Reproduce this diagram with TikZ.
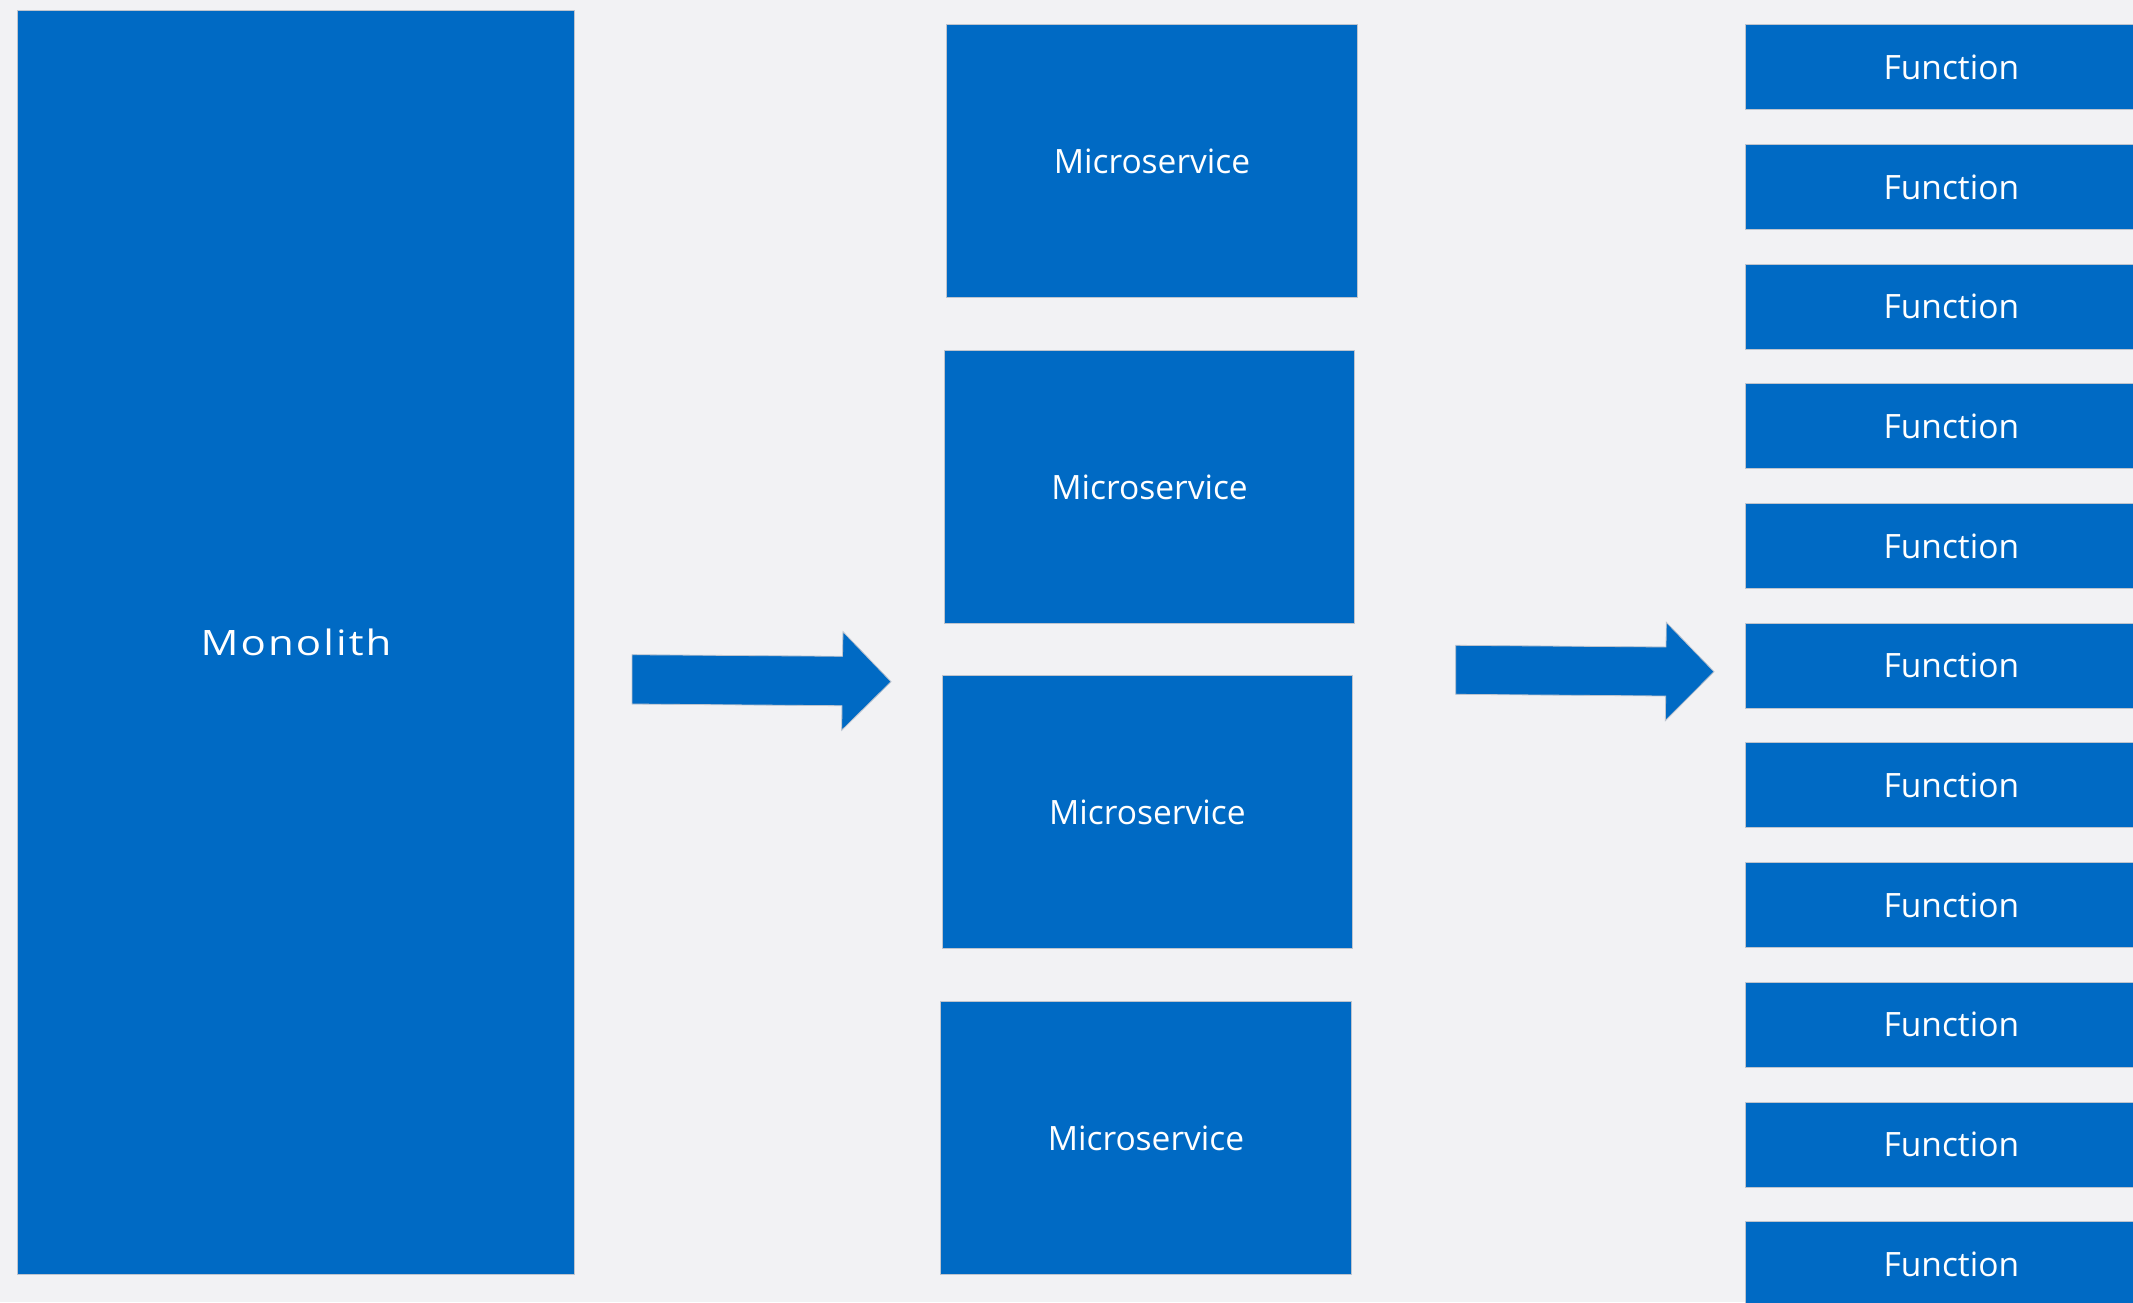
\documentclass[tikz,border=0pt]{standalone}
\usepackage{graphicx}
\usepackage{fontspec}
\setmainfont{Open Sans}
\newfontfamily\monofont[LetterSpace=5]{Open Sans}
\definecolor{bgc}{RGB}{242,242,244}
\definecolor{boxblue}{RGB}{0,106,196}
\definecolor{edgec}{RGB}{190,196,206}
\tikzset{
  blockbox/.style={fill=boxblue, draw=edgec, line width=1pt, inner sep=0pt, outer sep=0pt, text=white, font=\fontsize{33.5}{40}\selectfont},
  msbox/.style={blockbox, minimum width=410.6pt, minimum height=273pt},
  fnbox/.style={blockbox, minimum width=412pt, minimum height=85pt},
  bigarrow/.style={fill=boxblue, draw=edgec, line width=0.8pt, line join=miter}
}
\begin{document}
\begin{tikzpicture}[x=1pt,y=-1pt]
\fill[bgc] (0,0) rectangle (2133,1302);
\useasboundingbox (0,0) rectangle (2133,1302);
\node[blockbox, minimum width=556.6pt, minimum height=1263.6pt, font=\monofont\fontsize{35}{42}\selectfont] (mono) at (296,642.7) {\scalebox{1.2}[1]{Monolith}};
\node[msbox] (ms1) at (1152,161.3) {Microservice};
\node[msbox] (ms2) at (1149.6,487) {Microservice};
\node[msbox] (ms3) at (1147.4,812) {Microservice};
\node[msbox] (ms4) at (1146,1138.3) {Microservice};
\foreach \i in {0,...,10} {
  \node[fnbox] (fn\i) at (1951.3,{67.2+119.7*\i}) {Function};
}
\draw[bigarrow] (632,654.7) -- (842.5,656.3) -- (843,631.7) -- (891,681.7) -- (841.7,730.3) -- (842,705.7) -- (632,704) -- cycle;
\draw[bigarrow] (1455.7,645.3) -- (1666,647) -- (1666.3,622.3) -- (1714,671.7) -- (1665.3,720.7) -- (1665.7,696) -- (1455.7,694.3) -- cycle;
\end{tikzpicture}
\end{document}
